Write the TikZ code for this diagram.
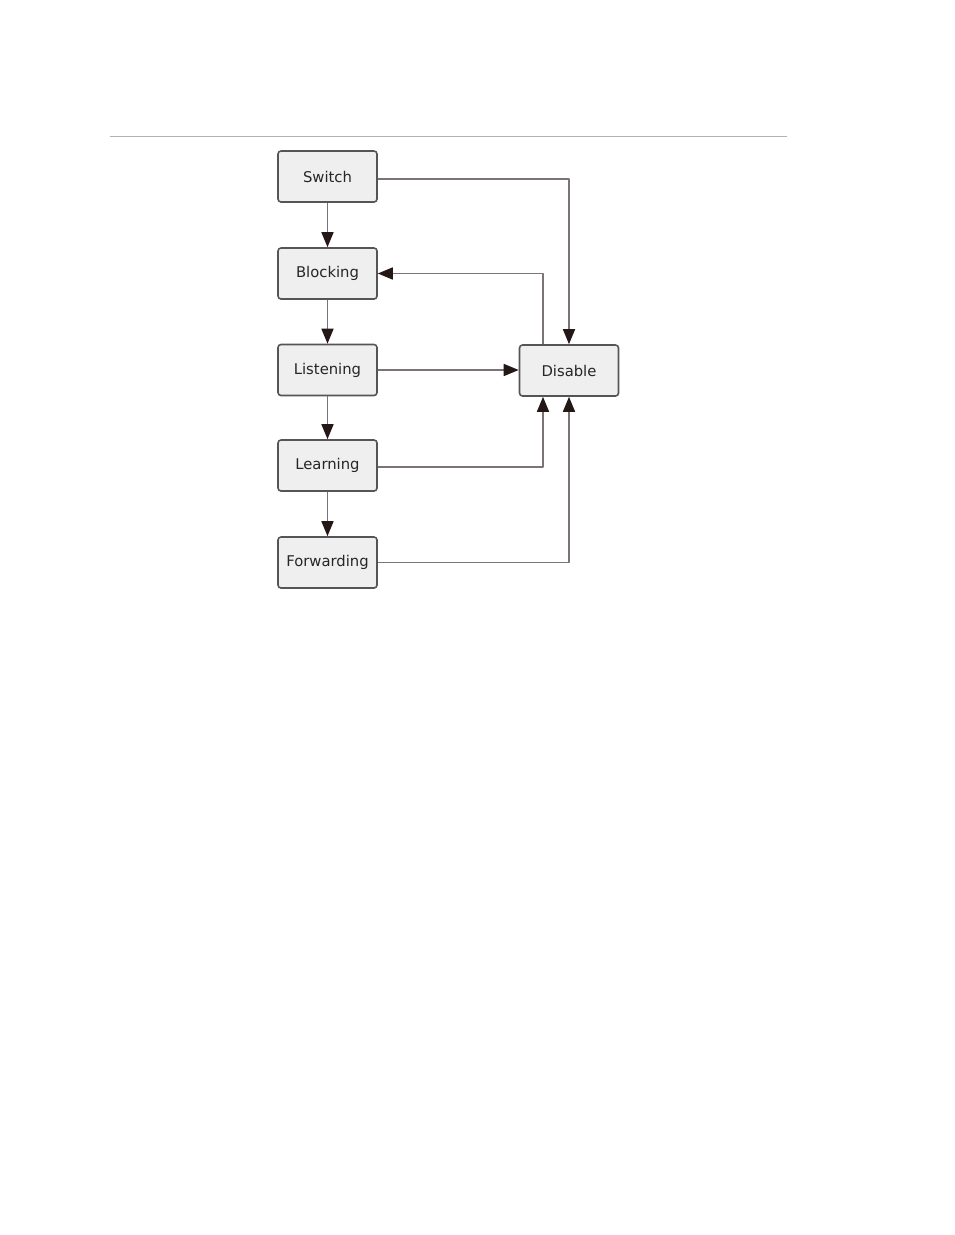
\documentclass[tikz,border=0pt]{standalone}
\usepackage{fontspec}
\setmainfont{DejaVu Sans}
\usetikzlibrary{arrows.meta}
\definecolor{boxfill}{HTML}{EFEFEF}
\definecolor{boxline}{HTML}{555555}
\definecolor{wire}{HTML}{7A7478}
\definecolor{tip}{HTML}{231815}
\begin{document}
\begin{tikzpicture}[x=1pt,y=-1pt,line join=round,>={Triangle[length=15pt,width=12pt,color=tip]},line width=1.6pt]
				\tikzset{stbox/.style={draw=boxline,fill=boxfill,rounded corners=3pt,minimum width=99pt,minimum height=51pt,inner sep=0pt,text=black!85,font=\fontsize{14.8}{17}\selectfont}}
				\tikzset{wire/.style={draw=wire,->}}
				\useasboundingbox (0,0) rectangle (954,1235);
				\draw[line width=1pt,black!30] (110,136)--(787,136);
				\node[stbox] (sw) at (327.5,176.5) {Switch};
				\node[stbox] (blk) at (327.5,273.5) {Blocking};
				\node[stbox] (lis) at (327.5,370) {Listening};
				\node[stbox] (lrn) at (327.5,465.5) {Learning};
				\node[stbox] (fwd) at (327.5,562.5) {Forwarding};
				\node[stbox] (dis) at (569,370.5) {Disable};
				\draw[wire] (sw)--(blk);
				\draw[wire] (blk)--(lis);
				\draw[wire] (lis)--(lrn);
				\draw[wire] (lrn)--(fwd);
				\draw[wire] ([yshift=-2.5pt]sw.east) -| (dis.north);
				\draw[wire] ([xshift=-26pt]dis.north) |- (blk.east);
				\draw[wire] (lis.east)--(lis.east -| dis.west);
				\draw[wire] ([yshift=-1.5pt]lrn.east) -| ([xshift=-26pt]dis.south);
				\draw[wire] (fwd.east) -| (dis.south);
			\end{tikzpicture}
\end{document}
